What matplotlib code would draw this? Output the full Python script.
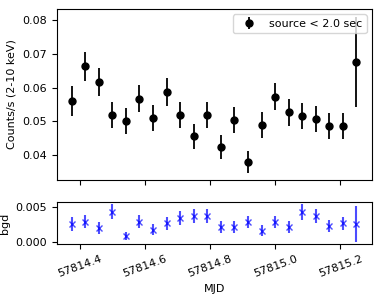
import numpy as np
import matplotlib
matplotlib.use('Agg')
import matplotlib.pyplot as plt

# Time bins (MJD), one hour apart
mjd = 57814.3745 + np.arange(22) * 0.041667

# Source rate, counts/s (2-10 keV)
rate = [0.0560, 0.0663, 0.0617, 0.0518, 0.0501, 0.0567, 0.0509, 0.0587,
        0.0518, 0.0455, 0.0518, 0.0423, 0.0504, 0.0380, 0.0488, 0.0573,
        0.0527, 0.0515, 0.0507, 0.0486, 0.0486, 0.0675]
rate_err = [0.0045, 0.0043, 0.0042, 0.0038, 0.0038, 0.0041, 0.0039, 0.0042,
            0.0038, 0.0036, 0.0038, 0.0035, 0.0038, 0.0033, 0.0038, 0.0041,
            0.0040, 0.0039, 0.0039, 0.0038, 0.0038, 0.0134]

# Background rate
bgd = [0.00261, 0.00294, 0.00200, 0.00437, 0.00090, 0.00294, 0.00176, 0.00271,
       0.00343, 0.00376, 0.00376, 0.00223, 0.00223, 0.00290, 0.00166, 0.00290,
       0.00223, 0.00437, 0.00380, 0.00233, 0.00271, 0.00261]
bgd_err = [0.00095, 0.00095, 0.00085, 0.00105, 0.00060, 0.00095, 0.00080, 0.00090,
           0.00100, 0.00105, 0.00105, 0.00085, 0.00085, 0.00090, 0.00075, 0.00090,
           0.00085, 0.00115, 0.00100, 0.00085, 0.00090, 0.00260]

plt.rcParams['font.size'] = 8

fig = plt.figure(figsize=(3.82, 2.96), dpi=100)
ax1 = fig.add_axes([0.148, 0.392, 0.826, 0.578])
ax2 = fig.add_axes([0.148, 0.176, 0.826, 0.142], sharex=ax1)

ax1.errorbar(mjd, rate, yerr=rate_err, fmt='ko', ms=5, elinewidth=1.3,
             label='source < 2.0 sec')
ax1.set_ylabel('Counts/s (2-10 keV)')
ax1.set_ylim(0.0326, 0.0833)
ax1.set_yticks([0.04, 0.05, 0.06, 0.07, 0.08])
ax1.legend(loc='upper right', fontsize=8)
plt.setp(ax1.get_xticklabels(), visible=False)

ax2.errorbar(mjd, bgd, yerr=bgd_err, fmt='bx', ms=5, alpha=0.7)
ax2.set_ylabel('bgd')
ax2.set_ylim(-0.00024, 0.00576)
ax2.set_yticks([0.0, 0.005])
ax2.set_xlim(57814.328, 57815.2975)
ax2.set_xticks([57814.4, 57814.6, 57814.8, 57815.0, 57815.2])
ax2.ticklabel_format(axis='x', useOffset=False)
ax2.set_xlabel('MJD')
plt.setp(ax2.get_xticklabels(), rotation=20)

plt.savefig('out.png', dpi=100)
